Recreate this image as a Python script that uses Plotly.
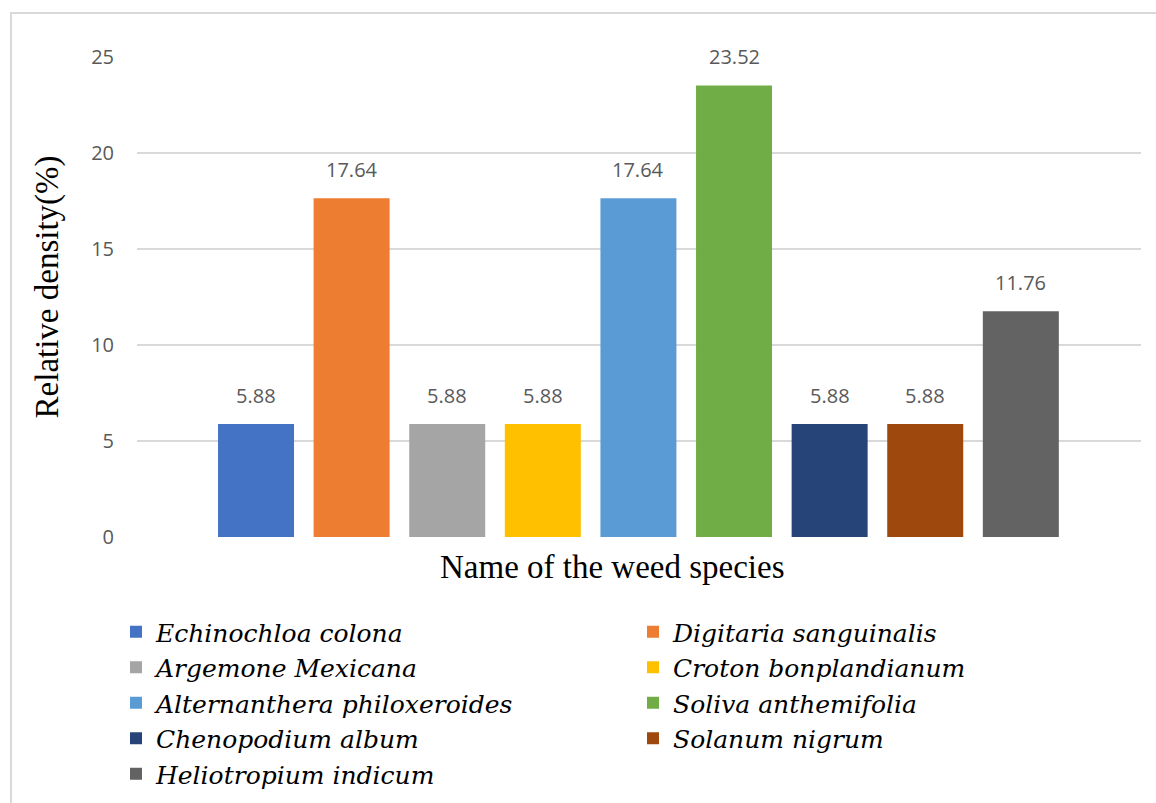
import plotly.graph_objects as go

# Weed species and their relative density (%)
species = [
    "Echinochloa colona",
    "Digitaria sanguinalis",
    "Argemone Mexicana",
    "Croton bonplandianum",
    "Alternanthera philoxeroides",
    "Soliva anthemifolia",
    "Chenopodium album",
    "Solanum nigrum",
    "Heliotropium indicum",
]
relative_density = [5.88, 17.64, 5.88, 5.88, 17.64, 23.52, 5.88, 5.88, 11.76]
colors = ["#4472C4", "#ED7D31", "#A5A5A5", "#FFC000", "#5B9BD5",
          "#70AD47", "#264478", "#9E480E", "#636363"]
y_ticks = [0, 5, 10, 15, 20, 25]

fig = go.Figure()
for i, (name, val, col) in enumerate(zip(species, relative_density, colors)):
    fig.add_trace(go.Bar(
        x=[i], y=[val], name=name, width=0.795,
        marker=dict(color=col, line=dict(width=0)),
        hoverinfo="name+y",
    ))
    # value label above each bar
    fig.add_annotation(
        x=i, y=val, text=f"{val:.2f}", showarrow=False,
        yanchor="bottom", yshift=13,
        font=dict(family="Open Sans, Liberation Sans, sans-serif", size=20, color="#595959"),
    )

# Axis titles
fig.add_annotation(
    x=0.474, y=-0.0625, xref="paper", yref="paper", text="Name of the weed species",
    showarrow=False, xanchor="center", yanchor="middle",
    font=dict(family="Liberation Serif, Times New Roman, serif", size=33, color="#000000"),
)
fig.add_annotation(
    x=-0.0896, y=0.52, xref="paper", yref="paper", text="Relative density(%)",
    showarrow=False, textangle=-90, xanchor="center", yanchor="middle",
    font=dict(family="Liberation Serif, Times New Roman, serif", size=33, color="#000000"),
)

# Chart frame
fig.add_shape(type="rect", xref="paper", yref="paper",
              x0=-0.1255, y0=-0.7, x1=1.1, y1=1.0917,
              line=dict(color="#D9D9D9", width=2), fillcolor="rgba(0,0,0,0)", layer="below")

fig.update_layout(
    width=1156, height=803,
    margin=dict(l=137, r=15, t=57, b=266, autoexpand=False),
    paper_bgcolor="white", plot_bgcolor="white",
    barmode="overlay",
    showlegend=True,
    legend=dict(
        orientation="h",
        x=-0.0209, y=-0.15, xanchor="left", yanchor="top",
        entrywidth=472, entrywidthmode="pixels",
        font=dict(family="DejaVu Serif, Liberation Serif, serif", size=25, color="#000000", style="italic"),
        itemsizing="constant", bgcolor="rgba(0,0,0,0)",
    ),
    xaxis=dict(range=[-1.245, 9.257], showticklabels=False, showgrid=False,
               zeroline=False, showline=False, ticks=""),
    yaxis=dict(range=[0, 25], tickvals=y_ticks, showgrid=True, gridcolor="#D9D9D9",
               gridwidth=1.5, zeroline=False, showline=False, ticks="",
               ticklabelstandoff=22,
               tickfont=dict(family="Open Sans, Liberation Sans, sans-serif", size=20, color="#595959")),
)

fig.write_html("out.html")
